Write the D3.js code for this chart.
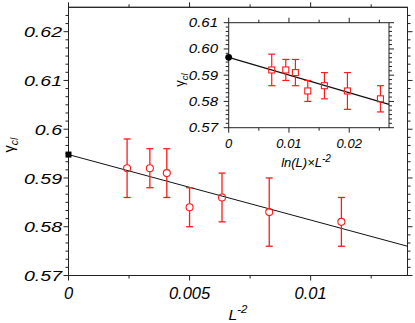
<!DOCTYPE html>
<html><head><meta charset="utf-8">
<script src="https://cdn.jsdelivr.net/npm/d3@7"></script>
<style>
body{margin:0;background:#fff;}
svg text{font-family:"Liberation Sans",Arial,sans-serif;font-style:italic;fill:#000;}
</style></head>
<body><svg id="c" width="415" height="323"></svg>
<script>
// ---- data ----
const mainX = [0.00242, 0.00336, 0.00406, 0.0050, 0.00634, 0.00829, 0.01127];
const mainY = [0.592, 0.592, 0.591, 0.584, 0.586, 0.583, 0.581];
const errs  = [0.006, 0.004, 0.005, 0.004, 0.005, 0.007, 0.005];
const mainFitX = [0, 0.014];
const mainFitY = [0.5948, 0.576];
const insetX = [0.00714, 0.00947, 0.01107, 0.01312, 0.01588, 0.0197, 0.02518];
const insetY = [0.592, 0.592, 0.591, 0.584, 0.586, 0.584, 0.581];
const insetFitX = [0, 0.0266];
const insetFitY = [0.5968, 0.5789];
const mainXTicks = [0, 0.005, 0.01];
const mainXTickLabels = ["0", "0.005", "0.01"];
const mainYTicks = [0.57, 0.58, 0.59, 0.6, 0.61, 0.62];
const mainYTickLabels = ["0.57", "0.58", "0.59", "0.6", "0.61", "0.62"];
const insetXTicks = [0, 0.01, 0.02];
const insetXTickLabels = ["0", "0.01", "0.02"];
const insetYTicks = [0.57, 0.58, 0.59, 0.60, 0.61];
const insetYTickLabels = ["0.57", "0.58", "0.59", "0.60", "0.61"];

const svg = d3.select("#c");
const AX = "#222", RED = "#ff1a1a";

function ticks(g, x, y, xm, ym, xMaj, yMaj, major, minor) {
  const [x0, x1] = x.range(), [y0, y1] = y.range();
  const isMaj = (v, step) => Math.abs(v / step - Math.round(v / step)) < 1e-6;
  xm.forEach(v => {
    const L = isMaj(v, xMaj) ? major : minor, px = x(v);
    g.append("line").attr("x1", px).attr("x2", px).attr("y1", y0).attr("y2", y0 + L).attr("stroke", AX);
    g.append("line").attr("x1", px).attr("x2", px).attr("y1", y1).attr("y2", y1 - L).attr("stroke", AX);
  });
  ym.forEach(v => {
    const L = isMaj(v, yMaj) ? major : minor, py = y(v);
    g.append("line").attr("y1", py).attr("y2", py).attr("x1", x0).attr("x2", x0 - L).attr("stroke", AX);
    g.append("line").attr("y1", py).attr("y2", py).attr("x1", x1).attr("x2", x1 + L).attr("stroke", AX);
  });
}

// ---- main plot ----
const x = d3.scaleLinear().domain([0, 0.014]).range([68.5, 407.5]);
const y = d3.scaleLinear().domain([0.57, 0.625]).range([275.5, 7.3]);
const gm = svg.append("g");
gm.append("rect").attr("x", 68.5).attr("y", 7.3).attr("width", 339).attr("height", 268.2)
  .attr("fill", "#fff").attr("stroke", AX);
ticks(gm, x, y, d3.range(0, 0.014 + 1e-9, 0.0025), d3.range(0, 33).map(i => 0.57 + i * 0.01 / 6).filter(v => v <= 0.625 + 1e-9),
  0.005, 0.01, 5, 3);

const line = d3.line().x(d => x(d[0])).y(d => y(d[1]));
gm.append("path").datum(d3.zip(mainFitX, mainFitY)).attr("d", line).attr("stroke", "#111").attr("fill", "none").attr("stroke-width", 1);
gm.append("rect").attr("x", x(0) - 3).attr("y", y(mainFitY[0]) - 3).attr("width", 6).attr("height", 6).attr("fill", "#000");

mainX.forEach((xv, i) => {
  const px = x(xv), e = errs[i];
  const pt = y(mainY[i] + e), pb = y(mainY[i] - e), py = y(mainY[i]);
  gm.append("line").attr("x1", px).attr("x2", px).attr("y1", pt).attr("y2", py - 3.5).attr("stroke", RED).attr("stroke-width", 1.3);
  gm.append("line").attr("x1", px).attr("x2", px).attr("y1", py + 3.5).attr("y2", pb).attr("stroke", RED).attr("stroke-width", 1.3);
  [pt, pb].forEach(yy => gm.append("line").attr("x1", px - 3.5).attr("x2", px + 3.5).attr("y1", yy).attr("y2", yy).attr("stroke", RED).attr("stroke-width", 1.3));
  gm.append("circle").attr("cx", px).attr("cy", py).attr("r", 3.5).attr("fill", "none").attr("stroke", RED).attr("stroke-width", 1.1);
});

mainXTicks.forEach((v, i) => {
  gm.append("text").attr("x", x(v)).attr("y", 299).attr("text-anchor", "middle").attr("font-size", "16.5px").text(mainXTickLabels[i]);
});
mainYTicks.forEach((v, i) => {
  gm.append("text").attr("transform", `translate(62,${y(v)}) scale(1.26,1)`).attr("dy", "0.36em")
    .attr("text-anchor", "end").attr("font-size", "15.5px").text(mainYTickLabels[i]);
});
const xl = gm.append("text").attr("x", 238).attr("y", 319.5).attr("text-anchor", "middle").attr("font-size", "15.5px");
xl.append("tspan").text("L");
xl.append("tspan").attr("dy", "-7").attr("font-size", "11.5px").text("-2");
const yl = gm.append("text").attr("transform", "translate(13.5,145) rotate(-90)").attr("text-anchor", "middle").attr("font-size", "14.5px");
yl.append("tspan").attr("font-style", "normal").text("γ");
yl.append("tspan").attr("dy", "4").attr("font-size", "10.5px").text("cl");

// ---- inset ----
const xi = d3.scaleLinear().domain([0, 0.0266]).range([228.7, 389]);
const yi = d3.scaleLinear().domain([0.57, 0.61]).range([127.7, 22.7]);
const gi = svg.append("g");
gi.append("rect").attr("x", 174).attr("y", 12).attr("width", 228).attr("height", 158).attr("fill", "#fff");
gm.append("line").attr("x1", 68.5).attr("x2", 407.5).attr("y1", 7.3).attr("y2", 7.3).attr("stroke", AX);
gi.append("rect").attr("x", 228.7).attr("y", 22.7).attr("width", 389 - 228.7).attr("height", 105).attr("fill", "#fff").attr("stroke", AX);
ticks(gi, xi, yi, d3.range(0, 0.0266, 0.005), d3.range(0, 25).map(i => 0.57 + i * 0.01 / 6).filter(v => v <= 0.61 + 1e-9),
  0.01, 0.01, 5, 3);

const linei = d3.line().x(d => xi(d[0])).y(d => yi(d[1]));
gi.append("path").datum(d3.zip(insetFitX, insetFitY)).attr("d", linei).attr("stroke", "#111").attr("fill", "none").attr("stroke-width", 1.2);
gi.append("circle").attr("cx", xi(0)).attr("cy", yi(insetFitY[0])).attr("r", 3.4).attr("fill", "#000");

insetX.forEach((xv, i) => {
  const px = xi(xv), e = errs[i];
  const pt = yi(insetY[i] + e), pb = yi(insetY[i] - e), py = yi(insetY[i]);
  gi.append("line").attr("x1", px).attr("x2", px).attr("y1", pt).attr("y2", py - 3).attr("stroke", RED).attr("stroke-width", 1.2);
  gi.append("line").attr("x1", px).attr("x2", px).attr("y1", py + 3).attr("y2", pb).attr("stroke", RED).attr("stroke-width", 1.2);
  [pt, pb].forEach(yy => gi.append("line").attr("x1", px - 3.5).attr("x2", px + 3.5).attr("y1", yy).attr("y2", yy).attr("stroke", RED).attr("stroke-width", 1.2));
  gi.append("rect").attr("x", px - 3).attr("y", py - 3).attr("width", 6).attr("height", 6).attr("fill", "none").attr("stroke", RED).attr("stroke-width", 1.1);
});

insetXTicks.forEach((v, i) => {
  gi.append("text").attr("x", xi(v)).attr("y", 148).attr("text-anchor", "middle").attr("font-size", "13px").text(insetXTickLabels[i]);
});
insetYTicks.forEach((v, i) => {
  gi.append("text").attr("transform", `translate(218,${yi(v)}) scale(1.2,1)`).attr("dy", "0.36em")
    .attr("text-anchor", "end").attr("font-size", "12.5px").text(insetYTickLabels[i]);
});
const xli = gi.append("text").attr("x", 306).attr("y", 167).attr("text-anchor", "middle").attr("font-size", "13px");
xli.append("tspan").text("ln(L)×L");
xli.append("tspan").attr("dy", "-5").attr("font-size", "10px").text("-2");
const yli = gi.append("text").attr("transform", "translate(184,80) rotate(-90)").attr("text-anchor", "middle").attr("font-size", "13px");
yli.append("tspan").attr("font-style", "normal").text("γ");
yli.append("tspan").attr("dy", "3.5").attr("font-size", "9.5px").text("cl");
</script></body></html>
